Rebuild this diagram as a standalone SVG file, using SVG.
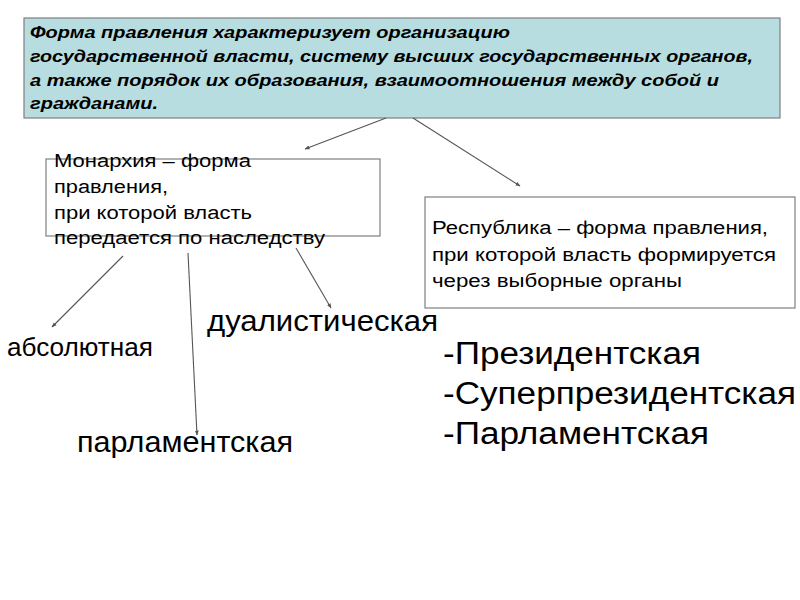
<svg xmlns="http://www.w3.org/2000/svg" width="800" height="600" viewBox="0 0 800 600">
<style>
.box{stroke:#7f7f7f;stroke-width:1.2}
.hdr{font-family:"Liberation Sans",Arial,sans-serif;font-size:17px;font-weight:bold;font-style:italic;fill:#000}
.t18{font-family:"Liberation Sans",Arial,sans-serif;font-size:18px;fill:#000}
.big{font-family:"Liberation Sans",Arial,sans-serif;fill:#000}
.conn line{stroke:#555;stroke-width:1.1;marker-end:url(#ah)}
</style>
<defs>
<marker id="ah" viewBox="0 0 10 10" refX="9" refY="5" markerWidth="5" markerHeight="5" orient="auto" markerUnits="userSpaceOnUse">
<path d="M0,1 L10,5 L0,9 z" fill="#555"/>
</marker>
</defs>
<rect width="800" height="600" fill="#fff"/>
<g id="header">
<rect class="box" x="24" y="18" width="756" height="100" fill="#b7dde0"/>
<text class="hdr" x="30" y="38" textLength="480" lengthAdjust="spacingAndGlyphs">Форма правления характеризует организацию</text>
<text class="hdr" x="30" y="62" textLength="723" lengthAdjust="spacingAndGlyphs">государственной власти, систему высших государственных органов,</text>
<text class="hdr" x="30" y="86" textLength="689" lengthAdjust="spacingAndGlyphs">а также порядок их образования, взаимоотношения между собой и</text>
<text class="hdr" x="30" y="109" textLength="128" lengthAdjust="spacingAndGlyphs">гражданами.</text>
</g>
<g id="monarchy">
<rect class="box" x="46" y="159" width="334" height="77" fill="#fff"/>
<text class="t18" x="54" y="167" textLength="197" lengthAdjust="spacingAndGlyphs">Монархия – форма</text>
<text class="t18" x="54" y="193" textLength="114" lengthAdjust="spacingAndGlyphs">правления,</text>
<text class="t18" x="54" y="219" textLength="198" lengthAdjust="spacingAndGlyphs">при которой власть</text>
<text class="t18" x="54" y="244" textLength="271" lengthAdjust="spacingAndGlyphs">передается по наследству</text>
</g>
<g id="republic">
<rect class="box" x="425" y="197" width="370" height="111" fill="#fff"/>
<text class="t18" x="432" y="234" textLength="336" lengthAdjust="spacingAndGlyphs">Республика – форма правления,</text>
<text class="t18" x="432" y="261" textLength="344" lengthAdjust="spacingAndGlyphs">при которой власть формируется</text>
<text class="t18" x="432" y="287" textLength="250" lengthAdjust="spacingAndGlyphs">через выборные органы</text>
</g>
<g id="absolute"><text class="big" x="7" y="356" font-size="25" textLength="146" lengthAdjust="spacingAndGlyphs">абсолютная</text></g>
<g id="dualistic"><text class="big" x="207" y="331" font-size="29" textLength="231" lengthAdjust="spacingAndGlyphs">дуалистическая</text></g>
<g id="parliamentary"><text class="big" x="77" y="452" font-size="29" textLength="216" lengthAdjust="spacingAndGlyphs">парламентская</text></g>
<g id="republic-types">
<text class="big" x="443" y="364" font-size="31" textLength="258" lengthAdjust="spacingAndGlyphs">-Президентская</text>
<text class="big" x="443" y="404" font-size="31" textLength="353" lengthAdjust="spacingAndGlyphs">-Суперпрезидентская</text>
<text class="big" x="443" y="444" font-size="31" textLength="266" lengthAdjust="spacingAndGlyphs">-Парламентская</text>
</g>
<g id="connectors" class="conn">
<line x1="386" y1="118" x2="305" y2="149"/>
<line x1="413" y1="118" x2="520" y2="186"/>
<line x1="123" y1="256" x2="52" y2="327"/>
<line x1="188" y1="253" x2="197" y2="435"/>
<line x1="296" y1="248" x2="331" y2="308"/>
</g>
</svg>
